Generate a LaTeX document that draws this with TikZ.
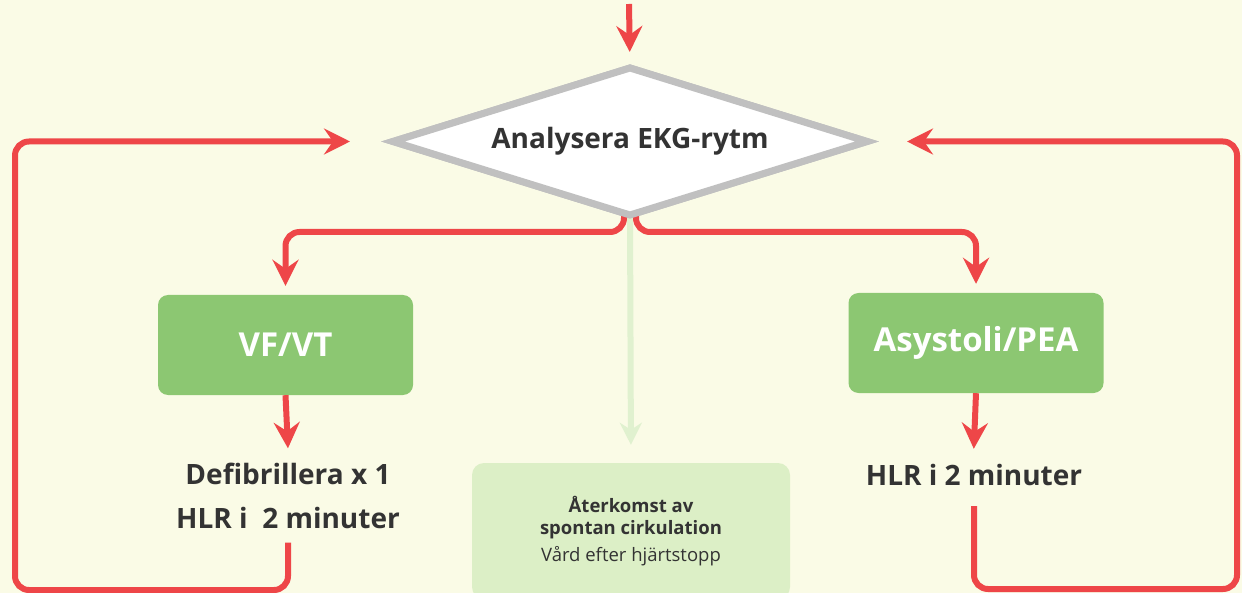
\documentclass[tikz,border=0pt]{standalone}
\usepackage{fontspec}
\setmainfont{Open Sans}
\usetikzlibrary{shapes.geometric,arrows.meta}
\definecolor{bgc}{HTML}{FAFBE6}
\definecolor{redc}{HTML}{EE4648}
\definecolor{greenc}{HTML}{8CC772}
\definecolor{lgreenc}{HTML}{DCEFC6}
\definecolor{lgarrow}{HTML}{E0F1CF}
\definecolor{grayc}{HTML}{C0C0C0}
\definecolor{txtc}{HTML}{333333}
\begin{document}
\begin{tikzpicture}[x=1pt,y=-1pt,
  redline/.style={draw=redc,line width=6pt,rounded corners=14pt},
  redarrow/.style={redline,-{Stealth[length=26pt,width=26pt,inset=9pt]}},
  greenbox/.style={fill=greenc,rounded corners=10pt,minimum width=255pt,minimum height=100pt,inner sep=0pt,
     text=white,font=\fontsize{33}{36}\selectfont\bfseries},
  steptext/.style={text=txtc,font=\fontsize{28}{44}\selectfont\bfseries,align=center,inner sep=0pt},
  decision/.style={diamond,shape aspect=3.22,draw=grayc,line width=7pt,fill=white,minimum width=474pt,minimum height=147pt,
     inner sep=0pt,outer sep=0pt,text=txtc,font=\fontsize{28}{32}\selectfont\bfseries},
  roscbox/.style={fill=lgreenc,rounded corners=12pt,minimum width=318pt,minimum height=136pt,inner sep=0pt,
     text=txtc,align=center,font=\fontsize{18.5}{22}\selectfont},
]
\useasboundingbox (0,0) rectangle (1242,593);
\fill[bgc] (0,0) rectangle (1242,593);

% nodes
\node[decision] (dia) at (630,141.5) {\raisebox{-3pt}{Analysera EKG-rytm}};
\node[greenbox] (vf) at (285.5,345) {VF/VT};
\node[greenbox] (asy) at (976,343) {Asystoli/PEA};
\node[steptext,minimum height=93pt] (defib) at (288,496) {Defibrillera x 1\\HLR i\ \ 2 minuter};
\node[steptext,minimum height=62pt] (hlr) at (974,475) {HLR i 2 minuter};
\node[roscbox] (rosc) at (631,531) {\bfseries Återkomst av\\\bfseries spontan cirkulation\\[5pt]\mdseries Vård efter hjärtstopp};

\coordinate (start) at (629,4);
\coordinate (split) at (630,232);
\coordinate (lcorner) at (15,590);
\coordinate (rcorner) at (1237,589);

% light green ROSC arrow
\draw[draw=lgarrow,line width=6pt,-{Stealth[length=22pt,width=22pt,inset=7pt]},shorten >=18pt] (dia.south) -- (rosc.north);

% red connectors
\draw[redarrow,shorten >=16pt] (start) -- (dia.north);
\draw[redarrow,shorten >=9pt] ([xshift=-6pt]dia.south) |- (vf.north |- split) -- (vf.north);
\draw[redarrow,shorten >=9pt] ([xshift=6pt]dia.south) |- (asy.north |- split) -- (asy.north);
\draw[redarrow,shorten >=1pt] (vf.south) -- (defib.north);
\draw[redarrow,shorten >=-5pt] (asy.south) -- (hlr.north);
\draw[redarrow,shorten >=43pt] (defib.south) |- (lcorner) |- (dia.west);
\draw[redarrow,shorten >=40pt] (hlr.south) |- (rcorner) |- (dia.east);

% redraw diamond border over line starts
\node[decision] at (dia) {\raisebox{-3pt}{Analysera EKG-rytm}};
\end{tikzpicture}
\end{document}
